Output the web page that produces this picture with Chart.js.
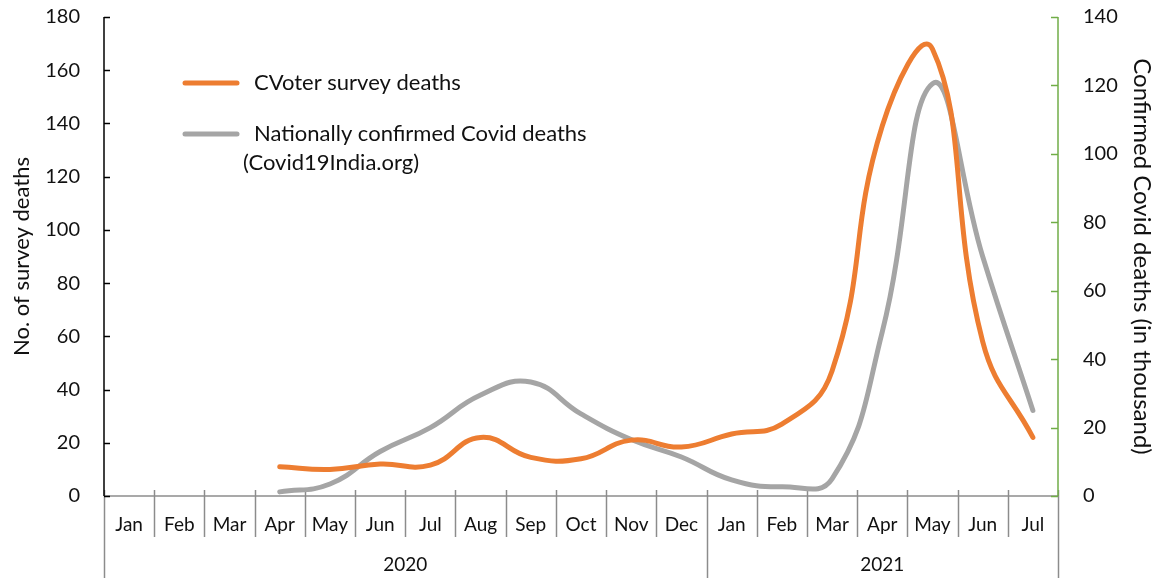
<!DOCTYPE html>
<html>
<head>
<meta charset="utf-8">
<script src="https://cdn.jsdelivr.net/npm/chart.js@4"></script>
<style>
  html, body { margin: 0; padding: 0; background: #fff; }
  #wrap { width: 1159px; height: 578px; position: relative; }
</style>
</head>
<body>
<div id="wrap"><canvas id="c" width="1159" height="578"></canvas></div>
<script>
// Month categories with the year each belongs to
const months = ['Jan','Feb','Mar','Apr','May','Jun','Jul','Aug','Sep','Oct','Nov','Dec',
                'Jan','Feb','Mar','Apr','May','Jun','Jul'];
const years = ['2020','2020','2020','2020','2020','2020','2020','2020','2020','2020','2020','2020',
               '2021','2021','2021','2021','2021','2021','2021'];

// Survey deaths (left axis)
const surveyDeaths = [null, null, null, 11, 10, 12, 11.6, 22, 14.5, 14, 21, 18.4,
                      23.3, 27, 47, 139, 168, 58, 22];
// Confirmed deaths in thousands (right axis)
const confirmedDeaths = [null, null, null, 1.2, 3.5, 13, 20, 29.5, 33.3, 24, 16.5, 11.4,
                         4.7, 2.7, 5, 48, 120.5, 70, 25];

const seriesLabels = ['CVoter survey deaths', ['Nationally confirmed Covid deaths', '(Covid19India.org)']];

const leftTicks = { min: 0, max: 180, step: 20 };
const rightTicks = { min: 0, max: 140, step: 20 };

const FONT = 'Lato, "Open Sans", sans-serif';
const ORANGE = '#ED7D31';
const GREY = '#A5A5A5';
const AXIS_GREY = '#8C8C8C';
const GREEN = '#70AD47';

// Axis frame: category separators, year groups, inside tick marks
const framePlugin = {
  id: 'frame',
  beforeDatasetsDraw(chart) {
    const { ctx, chartArea: a, scales } = chart;
    const x = scales.x, y = scales.y, y1 = scales.y1;
    const n = months.length;
    const w = (x.getPixelForValue(1) - x.getPixelForValue(0));
    const edge = i => x.getPixelForValue(i) - w / 2;
    ctx.save();
    ctx.lineWidth = 1.5;
    ctx.strokeStyle = AXIS_GREY;
    // x axis line
    ctx.beginPath(); ctx.moveTo(a.left, a.bottom); ctx.lineTo(a.right, a.bottom); ctx.stroke();
    // month separators and year boundaries
    for (let i = 0; i <= n; i++) {
      const px = Math.round(edge(i)) + 0.5;
      const yearEdge = i === 0 || i === n || years[i] !== years[i - 1];
      ctx.beginPath();
      ctx.moveTo(px, a.bottom - 6);
      ctx.lineTo(px, yearEdge ? chart.height : a.bottom + 41);
      ctx.stroke();
    }
    // year labels centred under their month groups
    ctx.fillStyle = '#111';
    ctx.font = '19px ' + FONT;
    ctx.textAlign = 'center';
    ctx.textBaseline = 'middle';
    let start = 0;
    for (let i = 1; i <= n; i++) {
      if (i === n || years[i] !== years[start]) {
        ctx.fillText(years[start], (edge(start) + edge(i)) / 2, 565);
        start = i;
      }
    }
    // left axis line and inward ticks
    ctx.strokeStyle = '#000';
    ctx.beginPath(); ctx.moveTo(a.left, a.top); ctx.lineTo(a.left, a.bottom); ctx.stroke();
    for (let v = leftTicks.min; v <= leftTicks.max; v += leftTicks.step) {
      const py = Math.round(y.getPixelForValue(v)) + 0.5;
      ctx.beginPath(); ctx.moveTo(a.left, py); ctx.lineTo(a.left + 6, py); ctx.stroke();
    }
    // right axis line and inward ticks
    ctx.strokeStyle = GREEN;
    ctx.beginPath(); ctx.moveTo(a.right, a.top); ctx.lineTo(a.right, a.bottom); ctx.stroke();
    for (let v = rightTicks.min; v <= rightTicks.max; v += rightTicks.step) {
      const py = Math.round(y1.getPixelForValue(v)) + 0.5;
      ctx.beginPath(); ctx.moveTo(a.right, py); ctx.lineTo(a.right - 7, py); ctx.stroke();
    }
    ctx.restore();
  },
  afterDraw(chart) {
    // legend block in the upper-left of the plot
    const { ctx } = chart;
    const rows = [
      { color: chart.data.datasets[0].borderColor, label: chart.data.datasets[0].label, y: 83 },
      { color: chart.data.datasets[1].borderColor, label: chart.data.datasets[1].label, y: 134 }
    ];
    ctx.save();
    ctx.font = '22px ' + FONT;
    ctx.fillStyle = '#111';
    ctx.textBaseline = 'middle';
    ctx.textAlign = 'left';
    ctx.lineCap = 'round';
    ctx.lineWidth = 5;
    rows.forEach(r => {
      ctx.strokeStyle = r.color;
      ctx.beginPath(); ctx.moveTo(185, r.y); ctx.lineTo(237, r.y); ctx.stroke();
      const lines = Array.isArray(r.label) ? r.label : [r.label];
      lines.forEach((t, k) => ctx.fillText(t, k === 0 ? 254 : 243, r.y + k * 29));
    });
    ctx.restore();
  }
};

const zeroPad = s => { s.paddingTop = 0; s.paddingBottom = 0; };

new Chart(document.getElementById('c'), {
  type: 'line',
  data: {
    labels: months,
    datasets: [
      {
        label: seriesLabels[0],
        data: surveyDeaths,
        yAxisID: 'y',
        borderColor: ORANGE,
        borderWidth: 5,
        tension: 0.45,
        pointRadius: 0,
        borderCapStyle: 'round',
        borderJoinStyle: 'round',
        spanGaps: false
      },
      {
        label: seriesLabels[1],
        data: confirmedDeaths,
        yAxisID: 'y1',
        borderColor: GREY,
        borderWidth: 5,
        tension: 0.45,
        pointRadius: 0,
        borderCapStyle: 'round',
        borderJoinStyle: 'round',
        spanGaps: false
      }
    ]
  },
  options: {
    responsive: false,
    animation: false,
    devicePixelRatio: 1,
    layout: { padding: { top: 17, left: 0, right: 0, bottom: 0 } },
    plugins: { legend: { display: false }, tooltip: { enabled: false } },
    scales: {
      x: {
        type: 'category',
        offset: true,
        grid: { display: false, drawTicks: false },
        border: { display: false },
        ticks: {
          autoSkip: false, maxRotation: 0, padding: 17,
          color: '#111', font: { family: FONT, size: 19 }
        },
        afterFit(s) { s.height = 82; s.paddingLeft = 0; s.paddingRight = 0; }
      },
      y: {
        position: 'left',
        min: leftTicks.min, max: leftTicks.max,
        grid: { display: false, drawTicks: false },
        border: { display: false },
        ticks: { stepSize: leftTicks.step, padding: 24, color: '#111', font: { family: FONT, size: 20 } },
        title: { display: true, text: 'No. of survey deaths', color: '#111',
                 font: { family: FONT, size: 22 }, padding: { top: 9, bottom: 0 } },
        afterFit(s) { s.width = 104; zeroPad(s); }
      },
      y1: {
        position: 'right',
        min: rightTicks.min, max: rightTicks.max,
        grid: { display: false, drawTicks: false },
        border: { display: false },
        ticks: { stepSize: rightTicks.step, padding: 25, color: '#111', font: { family: FONT, size: 20 } },
        title: { display: true, text: 'Confirmed Covid deaths (in thousand)', color: '#111',
                 font: { family: FONT, size: 24 }, padding: { top: 3, bottom: 0 } },
        afterFit(s) { s.width = 101; zeroPad(s); }
      }
    }
  },
  plugins: [framePlugin]
});
</script>
</body>
</html>
